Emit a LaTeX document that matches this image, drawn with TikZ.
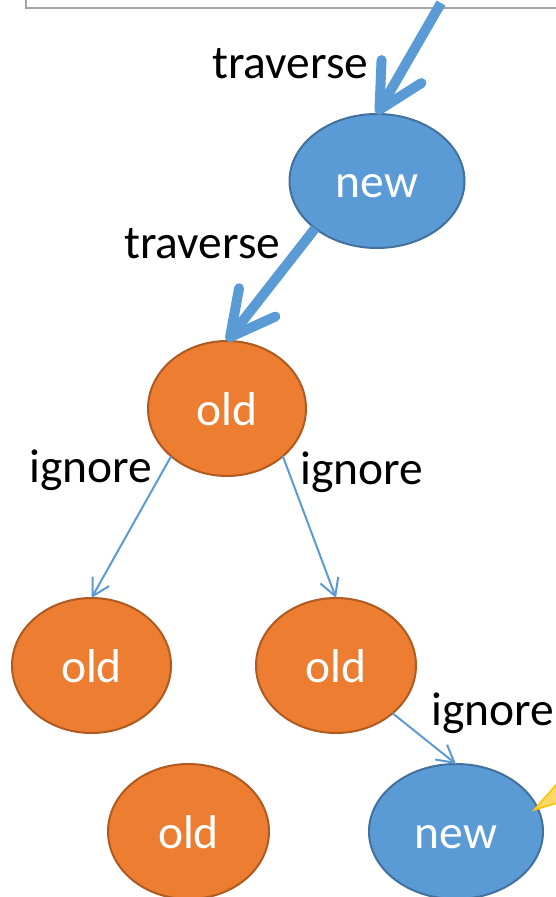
\documentclass[tikz,border=0pt]{standalone}
\usepackage{fontspec}
\setmainfont{Carlito}
\usetikzlibrary{arrows.meta,shapes.geometric}
\definecolor{nodeblue}{HTML}{5B9BD5}
\definecolor{blueline}{HTML}{41719C}
\definecolor{nodeorange}{HTML}{ED7D31}
\definecolor{orangeline}{HTML}{AE5A21}
\definecolor{boxgray}{HTML}{A6A6A6}
\definecolor{calloutfill}{HTML}{FFD966}
\definecolor{calloutline}{HTML}{FFC000}

\begin{document}
\begin{tikzpicture}[x=1pt,y=-1pt,
  every node/.style={font=\fontsize{47.5}{56}\selectfont},
  treenode/.style={ellipse, inner sep=0pt, outer sep=0pt, line width=2pt,
    text=white, text height=33pt, text depth=0pt},
  newnode/.style={treenode, fill=nodeblue, draw=blueline},
  oldnode/.style={treenode, fill=nodeorange, draw=orangeline},
  edgelabel/.style={anchor=base west, inner sep=0pt, text=black},
  travarrow/.style={draw=nodeblue, line width=10pt,
    -{Straight Barb[length=44pt,width=46pt,round]}},
  ignarrow/.style={draw=nodeblue, line width=2pt,
    -{Straight Barb[length=17pt,width=19pt]}},
]
\useasboundingbox (0,0) rectangle (556,897);
\clip (0,0) rectangle (556,897);

% frame of the block above the tree
\draw[boxgray, line width=2.5pt] (26,-40) rectangle (620,8);
\coordinate (src) at (441,3);

% tree nodes
\node[newnode, minimum width=175pt, minimum height=134pt] (new1) at (377,181) {new};
\node[oldnode, minimum width=158pt, minimum height=135pt] (old1) at (227,408.5) {old};
\node[oldnode, minimum width=159pt, minimum height=135pt] (old2) at (91.5,665.5) {old};
\node[oldnode, minimum width=160pt, minimum height=135pt] (old3) at (336,665.5) {old};
\node[oldnode, minimum width=161pt, minimum height=135pt] (old4) at (188.5,831.5) {old};
\node[newnode, minimum width=174pt, minimum height=135pt] (new2) at (456,831.5) {new};

% callout pointer at the right edge
\coordinate (cpTip) at (534,810);
\coordinate (cpUp) at (590,746);
\coordinate (cpLow) at (590,793);
\filldraw[fill=calloutfill, draw=calloutline, line width=1.5pt, line join=miter]
  (cpTip) -- (cpUp) -- (cpLow) -- cycle;

% connectors
\draw[travarrow] (src) -- (new1.north);
\draw[travarrow] (new1.south west) -- (old1.north);
\draw[ignarrow] (old1.south west) -- (old2.north);
\draw[ignarrow] (old1.south east) -- (old3.north);
\draw[ignarrow] (old3.south east) -- (new2.north);

% connector labels
\node[edgelabel] (lt1) at (212,78) {traverse};
\node[edgelabel] (lt2) at (124,258) {traverse};
\node[edgelabel] (li1) at (29,482) {ignore};
\node[edgelabel] (li2) at (300,484) {ignore};
\node[edgelabel] (li3) at (431,725) {ignore};
\end{tikzpicture}
\end{document}
